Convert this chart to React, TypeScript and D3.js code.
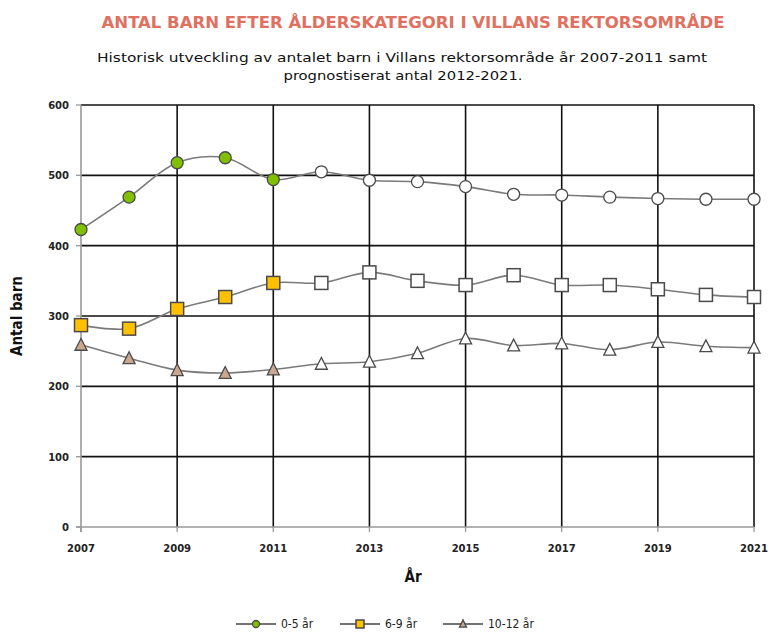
import React from "react"
import * as d3 from "d3"

const years = [2007, 2008, 2009, 2010, 2011, 2012, 2013, 2014, 2015, 2016, 2017, 2018, 2019, 2020, 2021]
const age0to5 = [423, 469, 518, 525, 494, 505, 493, 491, 484, 473, 472, 469, 467, 466, 466]
const age6to9 = [287, 282, 310, 327, 347, 347, 362, 350, 344, 358, 344, 344, 338, 330, 327]
const age10to12 = [259, 240, 223, 219, 224, 232, 235, 247, 268, 258, 261, 252, 263, 257, 255]
const seriesNames = ["0-5 år", "6-9 år", "10-12 år"]
const lastHistoricYear = 2011
const xTicks = [2007, 2009, 2011, 2013, 2015, 2017, 2019, 2021]
const yTicks = [0, 100, 200, 300, 400, 500, 600]

const W = 776
const H = 633
const margin = { top: 105, right: 22, bottom: 106, left: 81 }

const series = [
  { name: seriesNames[0], values: age0to5, shape: "circle", fill: "#80C000" },
  { name: seriesNames[1], values: age6to9, shape: "square", fill: "#FFC000" },
  { name: seriesNames[2], values: age10to12, shape: "triangle", fill: "#C9A88F" },
]

function Marker({ shape, x, y, fill, size }: { shape: string; x: number; y: number; fill: string; size: number }) {
  const stroke = "#4a4a4a"
  if (shape === "circle") {
    return <circle cx={x} cy={y} r={size / 2} fill={fill} stroke={stroke} strokeWidth={1.3} />
  }
  if (shape === "square") {
    return <rect x={x - size / 2} y={y - size / 2} width={size} height={size} fill={fill} stroke={stroke} strokeWidth={1.5} />
  }
  const h = size * 0.9
  const pts = `${x},${y - h / 2 - 1} ${x - size / 2},${y + h / 2} ${x + size / 2},${y + h / 2}`
  return <polygon points={pts} fill={fill} stroke={stroke} strokeWidth={1.3} />
}

export default function App() {
  const x = d3.scaleLinear().domain([2007, 2021]).range([margin.left, W - margin.right])
  const y = d3.scaleLinear().domain([0, 600]).range([H - margin.bottom, margin.top])

  const line = d3
    .line<number>()
    .x((_, i) => x(years[i]))
    .y(d => y(d))
    .curve(d3.curveCatmullRom.alpha(0.5))

  const x0 = x(2007)
  const x1 = x(2021)
  const y0 = y(0)
  const y1 = y(600)

  const legendItems = [
    { lx: 236, tx: 281 },
    { lx: 340, tx: 385 },
    { lx: 443, tx: 488 },
  ]

  return (
    <svg width={W} height={H} style={{ position: "absolute", left: 0, top: 0, background: "#fff" }}>
      {/* titles */}
      <text x={413} y={28} textAnchor="middle" fontFamily="Liberation Sans Narrow, DejaVu Sans Condensed, Arial Narrow, sans-serif"
        fontWeight="bold" fontSize={16} fill="#E0705F" textLength={623} lengthAdjust="spacingAndGlyphs">
        ANTAL BARN EFTER ÅLDERSKATEGORI I VILLANS REKTORSOMRÅDE
      </text>
      <text x={402} y={62} textAnchor="middle" fontFamily="Liberation Sans Narrow, DejaVu Sans Condensed, sans-serif"
        fontSize={13} fill="#111" textLength={610} lengthAdjust="spacingAndGlyphs">
        Historisk utveckling av antalet barn i Villans rektorsområde år 2007-2011 samt
      </text>
      <text x={403} y={80} textAnchor="middle" fontFamily="Liberation Sans Narrow, DejaVu Sans Condensed, sans-serif"
        fontSize={13} fill="#111" textLength={239} lengthAdjust="spacingAndGlyphs">
        prognostiserat antal 2012-2021.
      </text>

      {/* grid */}
      {yTicks.filter(t => t > 0).map(t => (
        <line key={"h" + t} x1={x0} x2={x1} y1={y(t)} y2={y(t)} stroke="#111" strokeWidth={1.6} />
      ))}
      {xTicks.filter(t => t > 2007).map(t => (
        <line key={"v" + t} x1={x(t)} x2={x(t)} y1={y1} y2={y0} stroke="#111" strokeWidth={1.6} />
      ))}

      {/* axes */}
      <line x1={x0} x2={x0} y1={y1} y2={y0 + 5} stroke="#999" strokeWidth={1.6} />
      <line x1={x0 - 5} x2={x1} y1={y0} y2={y0} stroke="#999" strokeWidth={1.6} />
      {yTicks.map(t => (
        <g key={"yt" + t}>
          <line x1={x0 - 5} x2={x0} y1={y(t)} y2={y(t)} stroke="#999" strokeWidth={1.3} />
          <text x={x0 - 12} y={y(t) + 4} textAnchor="end" fontFamily="DejaVu Sans, sans-serif" fontWeight="bold"
            fontSize={10} fill="#222">{t}</text>
        </g>
      ))}
      {xTicks.map(t => (
        <g key={"xt" + t}>
          <line x1={x(t)} x2={x(t)} y1={y0} y2={y0 + 5} stroke="#999" strokeWidth={1.3} />
          <text x={x(t)} y={y0 + 25} textAnchor="middle" fontFamily="DejaVu Sans, sans-serif" fontWeight="bold"
            fontSize={10} fill="#222">{t}</text>
        </g>
      ))}
      <text x={413} y={582} textAnchor="middle" fontFamily="Liberation Sans Narrow, DejaVu Sans Condensed, sans-serif"
        fontWeight="bold" fontSize={15} fill="#111">År</text>
      <text transform={`translate(22,${(y0 + y1) / 2}) rotate(-90)`} textAnchor="middle"
        fontFamily="Liberation Sans Narrow, DejaVu Sans Condensed, sans-serif" fontWeight="bold" fontSize={15} fill="#111">
        Antal barn
      </text>

      {/* series */}
      {series.map(s => (
        <path key={"l" + s.name} d={line(s.values) || ""} fill="none" stroke="#7a7a7a" strokeWidth={1.6} />
      ))}
      {series.map(s =>
        s.values.map((v, i) => (
          <Marker key={s.name + i} shape={s.shape} x={x(years[i])} y={y(v)}
            fill={years[i] <= lastHistoricYear ? s.fill : "#fff"} size={s.shape === "square" ? 13 : 12} />
        ))
      )}

      {/* legend */}
      {series.map((s, i) => (
        <g key={"lg" + s.name}>
          <line x1={legendItems[i].lx} x2={legendItems[i].lx + 40} y1={624} y2={624} stroke="#444" strokeWidth={1.4} />
          <Marker shape={s.shape} x={legendItems[i].lx + 20} y={624} fill={s.fill} size={s.shape === "square" ? 8 : 7} />
          <text x={legendItems[i].tx} y={628} fontFamily="Liberation Sans Narrow, DejaVu Sans Condensed, sans-serif"
            fontSize={12} fill="#222">{s.name}</text>
        </g>
      ))}
    </svg>
  )
}
